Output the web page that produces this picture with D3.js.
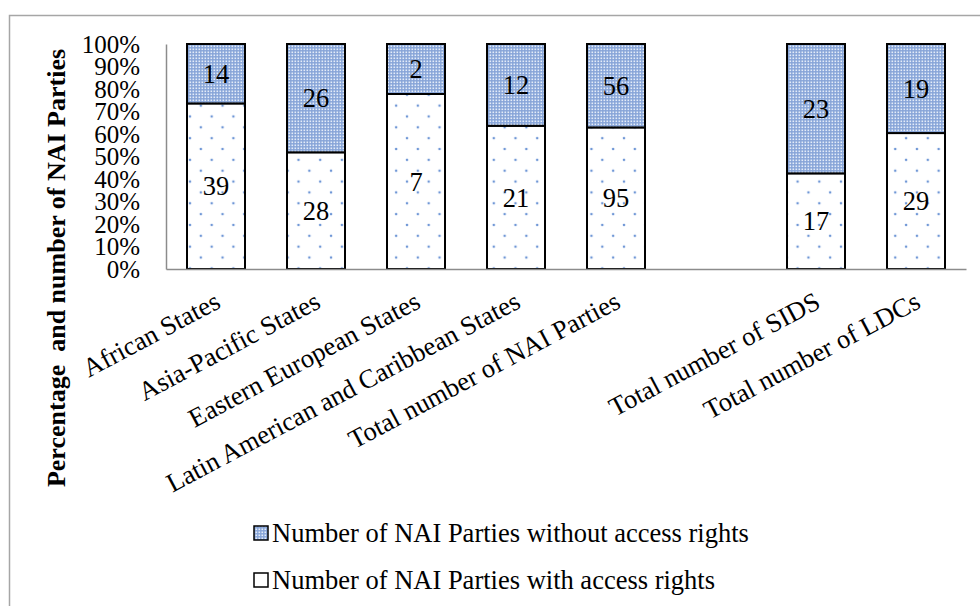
<!DOCTYPE html>
<html>
<head>
<meta charset="utf-8">
<script src="https://cdn.jsdelivr.net/npm/d3@7"></script>
<style>
  html, body { margin: 0; padding: 0; background: #fff; }
  svg { display: block; font-family: "Liberation Serif", "Times New Roman", serif; }
</style>
</head>
<body>
<svg id="chart" width="980" height="606"></svg>
<script>
const categories = ["African States", "Asia-Pacific States", "Eastern European States",
  "Latin American and Caribbean States", "Total number of NAI Parties", "",
  "Total number of SIDS", "Total number of LDCs"];
const withAccess = [39, 28, 7, 21, 95, null, 17, 29];
const withoutAccess = [14, 26, 2, 12, 56, null, 23, 19];
const yTicks = [0, 0.1, 0.2, 0.3, 0.4, 0.5, 0.6, 0.7, 0.8, 0.9, 1.0];
const seriesNames = ["Number of NAI Parties without access rights", "Number of NAI Parties with access rights"];
const yTitle = "Percentage\u00a0\u00a0and number of NAI Parties";

const svg = d3.select("#chart");
const defs = svg.append("defs");
const FS = 26.5;

// dense pattern (without access)
const p1 = defs.append("pattern").attr("id", "dense").attr("patternUnits", "userSpaceOnUse")
  .attr("width", 3).attr("height", 3);
p1.append("rect").attr("width", 3).attr("height", 3).attr("fill", "#86a4d8");
p1.append("rect").attr("x", 0.5).attr("y", 0.5).attr("width", 1.6).attr("height", 1.6).attr("fill", "#e4ecf8");

// sparse dots pattern (with access)
const T = 21.7;
const p2 = defs.append("pattern").attr("id", "sparse").attr("patternUnits", "userSpaceOnUse")
  .attr("width", T).attr("height", T).attr("x", 187).attr("y", 5);
p2.append("rect").attr("width", T).attr("height", T).attr("fill", "#fff");
p2.append("circle").attr("cx", 3).attr("cy", 3).attr("r", 1.3).attr("fill", "#6f97d6");
p2.append("circle").attr("cx", 3 + T / 2).attr("cy", 3 + T / 2).attr("r", 1.3).attr("fill", "#6f97d6");

// outer border
svg.append("rect").attr("x", 9.5).attr("y", 15.5).attr("width", 990).attr("height", 620)
  .attr("fill", "none").attr("stroke", "#a6a6a6").attr("stroke-width", 1.5);

const x = d3.scaleBand().domain(d3.range(categories.length)).range([166, 966])
  .paddingInner(0.42).paddingOuter(0.21);
const y = d3.scaleLinear().domain([0, 1]).range([269, 44]);

// y axis
const yAxis = d3.axisLeft(y).tickValues(yTicks).tickFormat(d3.format(".0%")).tickSize(0).tickPadding(26);
const gy = svg.append("g").attr("transform", "translate(166,0)").call(yAxis);
gy.select(".domain").attr("stroke", "#8c8c8c").attr("stroke-width", 1.5);
gy.selectAll("text").attr("font-size", 25).attr("fill", "#000").attr("font-family", "Liberation Serif, serif");

// bars
const data = categories.map((c, i) => ({ i, w: withAccess[i], wo: withoutAccess[i] })).filter(d => d.w != null);
const g = svg.append("g");
data.forEach(d => {
  const tot = d.w + d.wo;
  const f = d.w / tot;
  g.append("rect").attr("x", x(d.i)).attr("width", x.bandwidth())
    .attr("y", y(f)).attr("height", y(0) - y(f))
    .attr("fill", "url(#sparse)").attr("stroke", "#000").attr("stroke-width", 2);
  g.append("rect").attr("x", x(d.i)).attr("width", x.bandwidth())
    .attr("y", y(1)).attr("height", y(f) - y(1))
    .attr("fill", "url(#dense)").attr("stroke", "#000").attr("stroke-width", 2);
  g.append("text").attr("x", x(d.i) + x.bandwidth() / 2).attr("y", y(f / 2)).attr("dy", "0.35em")
    .attr("text-anchor", "middle").attr("font-size", FS).text(d.w);
  g.append("text").attr("x", x(d.i) + x.bandwidth() / 2).attr("y", y((1 + f) / 2)).attr("dy", "0.35em")
    .attr("text-anchor", "middle").attr("font-size", FS).text(d.wo);
});

// x axis
const xAxis = d3.axisBottom(x).tickFormat(i => categories[i]).tickSize(0).tickPadding(0);
const gx = svg.append("g").attr("transform", "translate(0,269)").call(xAxis);
gx.select(".domain").attr("stroke", "#8c8c8c").attr("stroke-width", 1.5);
gx.selectAll("text").attr("font-size", FS).attr("fill", "#000").attr("font-family", "Liberation Serif, serif")
  .attr("text-anchor", "end").attr("dy", 0).attr("y", 0)
  .attr("transform", "translate(6,38) rotate(-28)");

// y title
svg.append("text").attr("transform", "translate(65,268) rotate(-90)")
  .attr("text-anchor", "middle").attr("font-size", 26).attr("font-weight", "bold").text(yTitle);

// legend
const fills = ["url(#dense)", "#fff"];
const leg = svg.append("g");
seriesNames.forEach((s, k) => {
  const yy = 526 + k * 47;
  leg.append("rect").attr("x", 254).attr("y", yy).attr("width", 14).attr("height", 14)
    .attr("fill", fills[k]).attr("stroke", "#000").attr("stroke-width", 1.5);
  leg.append("text").attr("x", 272).attr("y", yy + 16).attr("font-size", FS).text(s);
});
</script>
</body>
</html>
